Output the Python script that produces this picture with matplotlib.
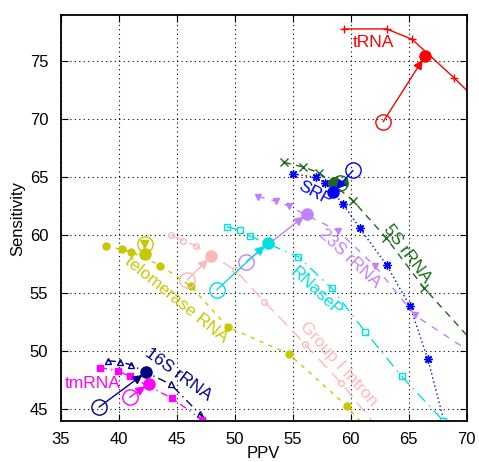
import matplotlib
matplotlib.use('Agg')
import matplotlib.pyplot as plt

plt.rcParams['font.family'] = ['Liberation Sans', 'DejaVu Sans']

# curves: PPV (x) and Sensitivity (y) for each RNA family
trna_x = [59.4, 63.1, 65.3, 68.9, 71.5]
trna_y = [77.8, 77.8, 76.9, 73.6, 71.0]
s5_x = [54.25, 55.9, 57.3, 60.2, 63.05, 66.3, 71.0]
s5_y = [66.3, 65.9, 65.4, 63.0, 59.8, 55.5, 50.3]
srp_x = [55.05, 57.05, 57.8, 59.35, 60.8, 63.1, 65.1, 66.65, 68.3]
srp_y = [65.3, 65.0, 64.5, 62.7, 60.6, 57.45, 53.9, 49.35, 43.0]
s23_x = [52.0, 53.6, 54.7, 58.9, 62.1, 65.55, 71.0]
s23_y = [63.35, 62.95, 62.5, 60.4, 57.35, 53.1, 49.5]
rnasep_x = [49.3, 50.5, 51.3, 55.5, 58.35, 61.25, 64.4, 68.0]
rnasep_y = [60.75, 60.45, 59.95, 58.15, 55.45, 51.7, 47.85, 44.0]
intron_x = [44.55, 45.55, 46.65, 50.0, 52.55, 56.05, 59.15, 62.5]
intron_y = [60.0, 59.55, 59.1, 57.05, 54.3, 50.65, 47.3, 43.2]
telo_x = [38.9, 40.25, 41.05, 43.6, 46.2, 49.4, 54.65, 59.65, 61.5]
telo_y = [59.05, 58.8, 58.6, 57.4, 55.65, 52.1, 49.8, 45.3, 43.2]
s16_x = [39.05, 40.1, 41.05, 44.5, 47.0, 48.0]
s16_y = [49.2, 49.1, 48.85, 47.15, 44.6, 43.5]
tm_x = [38.4, 39.9, 40.95, 44.6, 47.2, 48.2]
tm_y = [48.6, 48.35, 47.85, 45.95, 44.1, 43.3]

# start (open circle) and end (filled circle) of each arrow
names = ['tRNA', '5S rRNA', 'SRP', '23S rRNA', 'RNaseP', 'Group I Intron',
         'telomerase RNA', '16S rRNA', 'tmRNA']
start_x = [62.8, 59.05, 60.2, 51.0, 48.45, 45.9, 42.25, 38.3, 40.95]
start_y = [69.8, 64.55, 65.6, 57.75, 55.3, 56.15, 59.3, 45.2, 46.05]
end_x = [66.4, 58.55, 58.5, 56.25, 52.85, 47.95, 42.25, 42.35, 42.6]
end_y = [75.45, 64.55, 63.7, 61.85, 59.35, 58.2, 58.4, 48.2, 47.2]

# label positions / angles
label_x = [61.95, 64.85, 56.9, 59.95, 57.05, 58.95, 45.0, 45.15, 37.8]
label_y = [76.6, 58.45, 63.6, 58.0, 55.15, 48.95, 54.45, 48.05, 47.25]
label_rot = [0, -53, -28, -43, -43, -48, -39, -36, 0]

colors = ['#ff0000', '#1a6b1a', '#0000ff', '#c080ff', '#00e0e0', '#ffb8b8',
          '#c8c800', '#000080', '#ff00ff']
curves = [(trna_x, trna_y), (s5_x, s5_y), (srp_x, srp_y), (s23_x, s23_y),
          (rnasep_x, rnasep_y), (intron_x, intron_y), (telo_x, telo_y),
          (s16_x, s16_y), (tm_x, tm_y)]
markers = ['+', 'x', (8, 2, 0), 'v', 's', 'o', 'o', '^', 's']
mfill = [True, True, True, True, False, False, True, False, True]
styles = ['-', (0, (5, 4)), (0, (1, 2)), (0, (5, 5)), (0, (8, 4, 1, 4)),
          (0, (9, 5)), (0, (3, 4)), (0, (6, 3, 1, 3)), (0, (5, 3, 1, 3, 1, 3))]
msize = [6, 6, 6, 5, 5, 4, 5, 4, 5]

fig = plt.figure(figsize=(4.79, 4.62), dpi=100)
ax = fig.add_axes([0.1267, 0.0887, 0.8476, 0.8788])

for i in range(len(names)):
    cx, cy = curves[i]
    c = colors[i]
    ax.plot(cx, cy, linestyle=styles[i], color=c, lw=1.0, marker=markers[i],
            ms=msize[i], mew=1.0, mec=c,
            mfc=c if mfill[i] else 'none', clip_on=True, zorder=2)
    ax.plot(start_x[i], start_y[i], 'o', ms=11, mfc='none', mec=c, mew=1.0, zorder=3)
    ax.plot(end_x[i], end_y[i], 'o', ms=8, color=c, zorder=4)
    ax.annotate('', xy=(end_x[i], end_y[i]), xytext=(start_x[i], start_y[i]),
                arrowprops=dict(arrowstyle='-|>', color=c, lw=1.0,
                                mutation_scale=14, shrinkA=0, shrinkB=3),
                zorder=4)
    ax.text(label_x[i], label_y[i], names[i], color=c, fontsize=12.5,
            rotation=label_rot[i], ha='center', va='center',
            rotation_mode='anchor', zorder=5)

ax.set_xlim(35, 70)
ax.set_ylim(44, 79)
ax.set_xticks(range(35, 71, 5))
ax.set_yticks(range(45, 76, 5))
ax.grid(True, color='black', linestyle=(0, (1, 3)), lw=0.8)
ax.tick_params(direction='in', top=True, right=True, labelsize=12, length=5)
ax.tick_params(axis='x', pad=8)
ax.tick_params(axis='y', pad=9)
for sp in ax.spines.values():
    sp.set_linewidth(1.3)
ax.set_xlabel('PPV', fontsize=12, labelpad=-1)
ax.set_ylabel('Sensitivity', fontsize=12, labelpad=3)

fig.savefig('out.png', dpi=100)
